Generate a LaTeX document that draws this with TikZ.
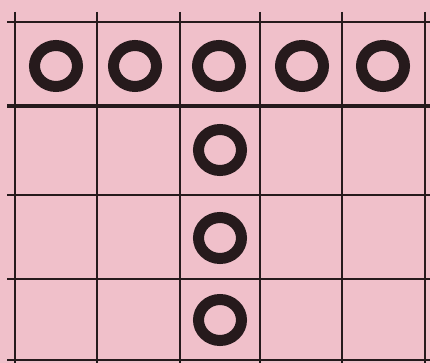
\documentclass[tikz,border=0pt]{standalone}
\usetikzlibrary{shapes.geometric}
\definecolor{paper}{RGB}{240,192,202}
\definecolor{ink}{RGB}{38,26,28}
\begin{document}
\begin{tikzpicture}[x=1pt,y=-1pt,
  thin line/.style={draw=ink,line width=1.4pt},
  thick line/.style={draw=ink,line width=4.8pt},
  ring/.style={ellipse,draw=ink,line width=11pt,minimum width=43pt,minimum height=41pt,inner sep=0pt}]
\fill[paper] (0,0) rectangle (430,363);
\useasboundingbox (0,0) rectangle (430,363);
% vertical lines
\foreach \x in {15,97,180,260,342,425}
  \draw[thin line] (\x,12) -- (\x,363);
% horizontal lines
\foreach \y in {22,195,279,360}
  \draw[thin line] (7,\y) -- (430,\y);
\draw[thick line] (7,106) -- (430,106);
% rings
\node[ring] (a1) at (56,66) {};
\node[ring] (a2) at (135,66) {};
\node[ring] (a3) at (219,66) {};
\node[ring] (a4) at (302,66) {};
\node[ring] (a5) at (383,66) {};
\node[ring] (b1) at (220,150) {};
\node[ring] (b2) at (220,238) {};
\node[ring] (b3) at (220,320) {};
\end{tikzpicture}
\end{document}
